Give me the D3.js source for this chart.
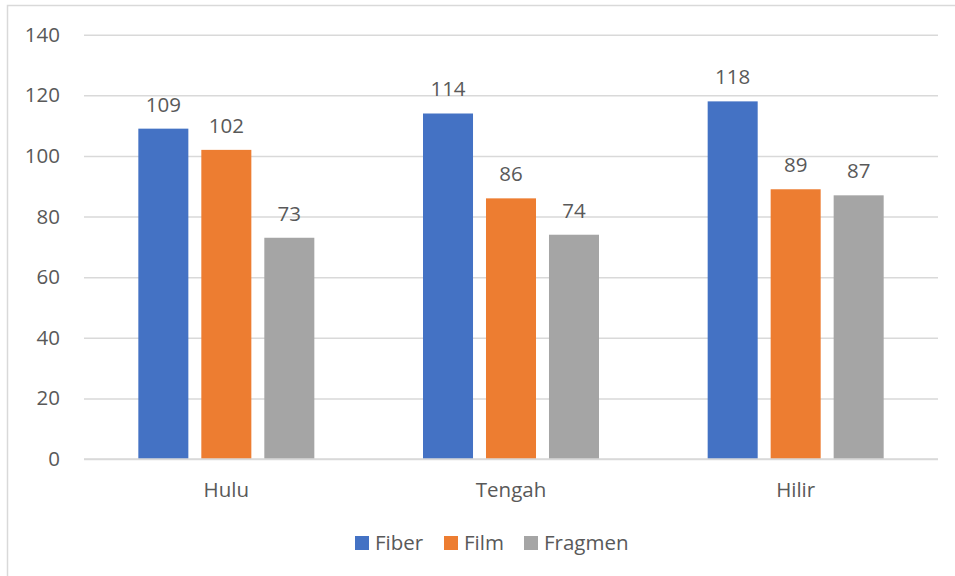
<!DOCTYPE html>
<html>
<head>
<meta charset="utf-8">
<script src="https://cdn.jsdelivr.net/npm/d3@7"></script>
<style>
  html, body { margin: 0; padding: 0; background: #fff; }
  svg text { font-family: "Open Sans", "Liberation Sans", sans-serif; fill: #595959; }
</style>
</head>
<body>
<svg id="chart" width="955" height="576"></svg>
<script>
// Sample counts per location and particle type
const categories = ["Hulu", "Tengah", "Hilir"];
const seriesNames = ["Fiber", "Film", "Fragmen"];
const fiber = [109, 114, 118];
const film = [102, 86, 89];
const fragmen = [73, 74, 87];
const yTicks = [0, 20, 40, 60, 80, 100, 120, 140];
const colors = ["#4472C4", "#ED7D31", "#A5A5A5"];

const seriesValues = [fiber, film, fragmen];
const rows = categories.map((c, i) => ({
  category: c,
  values: seriesNames.map((s, j) => ({ series: s, value: seriesValues[j][i] }))
}));

const svg = d3.select("#chart");
const plot = { left: 84, right: 938, top: 34.7, bottom: 459 };

// Chart frame
svg.append("rect")
  .attr("x", 7.5).attr("y", 5.5)
  .attr("width", 960).attr("height", 600)
  .attr("fill", "none").attr("stroke", "#d9d9d9").attr("stroke-width", 1.5);

const x = d3.scaleBand().domain(categories).range([plot.left, plot.right]);
const x1 = d3.scaleBand().domain(seriesNames).range([0, 176]).paddingInner(0.206);
const y = d3.scaleLinear().domain([0, 140]).range([plot.bottom, plot.top]);
const color = d3.scaleOrdinal().domain(seriesNames).range(colors);

// Horizontal gridlines and value labels on the left
const yAxis = d3.axisLeft(y).tickValues(yTicks).tickSize(-(plot.right - plot.left)).tickPadding(24);
const yg = svg.append("g").attr("transform", `translate(${plot.left},0)`).call(yAxis);
yg.select(".domain").remove();
yg.selectAll(".tick line").attr("stroke", "#d9d9d9").attr("stroke-width", 1.5);
yg.selectAll(".tick text").attr("font-size", 20.5).style("fill", "#595959");

// Category labels
const xAxis = d3.axisBottom(x).tickSize(0).tickPadding(23);
const xg = svg.append("g").attr("transform", `translate(0,${plot.bottom})`).call(xAxis);
xg.select(".domain").remove();
xg.selectAll(".tick text").attr("font-size", 20.5).style("fill", "#595959");

// Bars
const groups = svg.append("g").selectAll("g").data(rows).join("g")
  .attr("transform", d => `translate(${x(d.category) + x.bandwidth() / 2 - 88},0)`);

groups.selectAll("rect").data(d => d.values).join("rect")
  .attr("x", d => x1(d.series))
  .attr("y", d => y(d.value))
  .attr("width", x1.bandwidth())
  .attr("height", d => y(0) - y(d.value))
  .attr("fill", d => color(d.series));

groups.selectAll("text").data(d => d.values).join("text")
  .attr("x", d => x1(d.series) + x1.bandwidth() / 2)
  .attr("y", d => y(d.value) - 17)
  .attr("text-anchor", "middle")
  .attr("font-size", 20.5)
  .text(d => d.value);

// Zero line
svg.append("line")
  .attr("x1", plot.left).attr("x2", plot.right)
  .attr("y1", y(0)).attr("y2", y(0))
  .attr("stroke", "#d9d9d9").attr("stroke-width", 1.5);

// Legend
const legendX = [355, 444, 524];
const legend = svg.append("g").selectAll("g").data(seriesNames).join("g")
  .attr("transform", (d, i) => `translate(${legendX[i]},536)`);
legend.append("rect").attr("width", 14).attr("height", 14).attr("fill", d => color(d));
legend.append("text").attr("x", 20).attr("y", 14).attr("font-size", 20.5).text(d => d);
</script>
</body>
</html>
